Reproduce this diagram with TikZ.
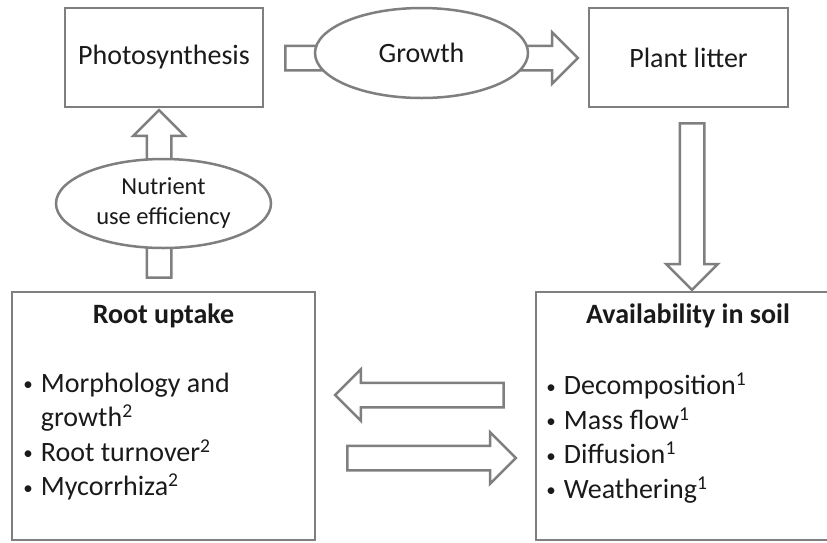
\documentclass[tikz,border=0pt]{standalone}
\usepackage{fontspec}
\setmainfont{Carlito}
\usetikzlibrary{shapes.geometric,shapes.arrows,calc,positioning}
\definecolor{edgegray}{RGB}{127,127,127}
\definecolor{inkgray}{RGB}{26,26,26}
\tikzset{
  box/.style={draw=edgegray, line width=2.5pt, inner sep=0pt, text=inkgray,
    font=\fontsize{28}{34.5}\selectfont},
  oval/.style={ellipse, draw=edgegray, line width=2.5pt, fill=white, inner sep=0pt,
    text=inkgray, align=center},
  fatarrow/.style={single arrow, draw=edgegray, line width=2.5pt, fill=white,
    inner xsep=0pt, inner ysep=11pt, single arrow head extend=13.5pt,
    single arrow tip angle=90},
  head/.style={text=inkgray, font=\fontsize{28}{34.5}\selectfont\bfseries},
  bullets/.style={text=inkgray, font=\fontsize{28}{34.5}\selectfont, align=left,
    anchor=north west, inner sep=0pt}
}
\newcommand{\fatlink}[3]{%
  \path let \p1=#2, \p2=#3, \n1={veclen(\x2-\x1,\y2-\y1)},
    \n2={atan2(\y2-\y1,\x2-\x1)} in
    node[fatarrow, minimum height=\n1, rotate=\n2] (#1) at ($(\p1)!0.5!(\p2)$) {};}
\newcommand{\dotmark}{\makebox[17.5pt][l]{\raisebox{1.5pt}{\fontsize{19}{19}\selectfont\textbullet}}}
\newcommand{\hang}{\hspace*{17.5pt}}

\begin{document}
\begin{tikzpicture}[x=1pt, y=-1pt]
  \path[use as bounding box, fill=white] (0,0) rectangle (827,542);

  \node[box, minimum width=198pt, minimum height=99pt] (photo) at (164,57.5) {Photosynthesis};
  \node[box, minimum width=199pt, minimum height=99pt] (litter) at (688.5,57.5) {Plant litter};
  \node[box, minimum width=303pt, minimum height=248pt] (root) at (163.5,416) {};
  \node[box, minimum width=296pt, minimum height=248pt] (soil) at (684,416) {};

  \fatlink{grow}{($(photo.east)+(15,0.5)$)}{($(litter.west)+(-16,0.5)$)}
  \fatlink{feed}{($(root.north)+(-4.5,-7)$)}{($(photo.south)+(-5,8)$)}
  \fatlink{fall}{($(litter.south)+(3.5,9)$)}{($(soil.north)+(8,-7)$)}
  \fatlink{supply}{($(soil.west)+(-25,-21)$)}{($(root.east)+(25,-21)$)}
  \fatlink{draw}{($(root.east)+(25,42)$)}{($(soil.west)+(-25,42)$)}

  \node[oval, minimum width=213pt, minimum height=90pt,
    font=\fontsize{28}{34}\selectfont] (growth) at (421.5,53) {Growth};
  \node[oval, minimum width=215pt, minimum height=89pt,
    font=\fontsize{24.5}{30}\selectfont] (nue) at (163.5,203.5) {Nutrient\\use efficiency};

  \node[head] (rootT) at ($(root.north)+(0,25)$) {Root uptake};
  \node[head] (soilT) at ($(soil.north)+(4,25)$) {Availability in soil};
  \node[bullets] (rootL) at ($(root.north west)+(12.5,82)$)
    {\dotmark Morphology and\\\hang growth\textsuperscript{2}\\
     \dotmark Root turnover\textsuperscript{2}\\\dotmark Mycorrhiza\textsuperscript{2}};
  \node[bullets] (soilL) at ($(soil.north west)+(11.5,82)$)
    {\dotmark Decomposition\textsuperscript{1}\\\dotmark Mass flow\textsuperscript{1}\\
     \dotmark Diffusion\textsuperscript{1}\\\dotmark Weathering\textsuperscript{1}};
\end{tikzpicture}
\end{document}
